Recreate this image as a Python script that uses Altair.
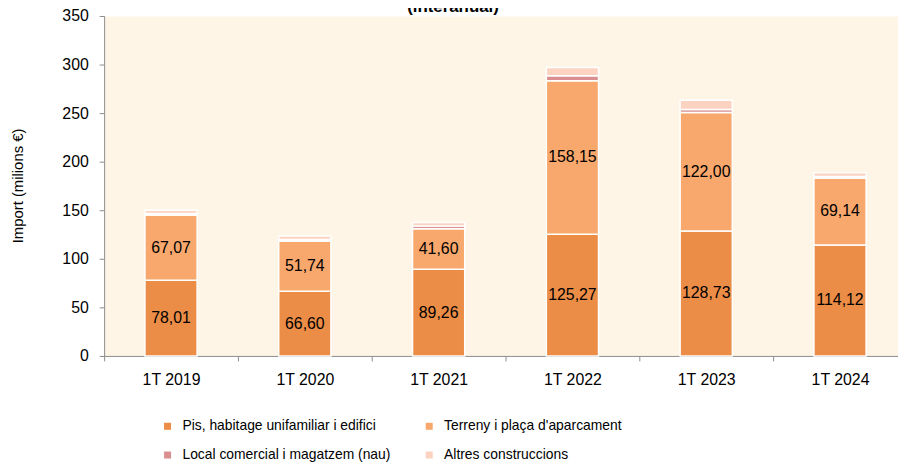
import altair as alt
import pandas as pd

title_text = "(interanual)"
categories = ["1T 2019", "1T 2020", "1T 2021", "1T 2022", "1T 2023", "1T 2024"]
series = [
    "Pis, habitage unifamiliar i edifici",
    "Terreny i plaça d'aparcament",
    "Local comercial i magatzem (nau)",
    "Altres construccions",
]
pis = [78.01, 66.60, 89.26, 125.27, 128.73, 114.12]
terreny = [67.07, 51.74, 41.60, 158.15, 122.00, 69.14]
local = [1.5, 1.5, 2.8, 5.0, 3.0, 1.5]
altres = [3.4, 3.6, 3.7, 8.5, 9.5, 3.7]
colors = ["#EC8D47", "#F8A86C", "#D98F8F", "#FCD3C1"]
labelled = [True, True, False, False]

rows = []
for i, c in enumerate(categories):
    base = 0.0
    for j, vals in enumerate([pis, terreny, local, altres]):
        v = vals[i]
        rows.append(dict(
            cat=c, serie=series[j], order=j, value=v,
            y0=base, y1=base + v, mid=base + v / 2,
            label=(f"{v:.2f}".replace(".", ",") if labelled[j] else ""),
        ))
        base += v
df = pd.DataFrame(rows)

FONT = "Liberation Sans"

x_enc = alt.X(
    "cat:N", sort=categories,
    scale=alt.Scale(paddingInner=0, paddingOuter=0),
    axis=alt.Axis(
        title=None, labelAngle=0, tickBand="extent", tickSize=5,
        tickColor="#8c8c8c", domainColor="#8c8c8c", labelPadding=11,
        labelFontSize=16, labelColor="#000000", labelFont=FONT,
    ),
)

bars = alt.Chart(df).mark_bar(
    width=alt.RelativeBandSize(0.39), stroke="white", strokeWidth=1.5
).encode(
    x=x_enc,
    y=alt.Y(
        "y0:Q",
        scale=alt.Scale(domain=[0, 350], nice=False),
        axis=alt.Axis(
            title="Import (milions €)", values=list(range(0, 351, 50)),
            grid=False, tickSize=5, tickColor="#8c8c8c", domainColor="#8c8c8c",
            labelPadding=11, labelFontSize=16, labelColor="#000000", labelFont=FONT,
            titleFont=FONT, titleFontSize=15, titleFontWeight="normal",
            titleColor="#000000", titleX=-87, titleY=171, titleAngle=-90,
            titleBaseline="middle",
        ),
    ),
    y2="y1:Q",
    color=alt.Color(
        "serie:N", sort=series,
        scale=alt.Scale(domain=series, range=colors),
        legend=alt.Legend(
            title=None, orient="none", legendX=57, legendY=407, columns=2,
            direction="horizontal", symbolType="square", symbolSize=50,
            symbolStrokeWidth=0, labelFont=FONT, labelFontSize=14,
            labelColor="#000000", labelOffset=8, columnPadding=31,
            rowPadding=15, labelLimit=400,
        ),
    ),
    order=alt.Order("order:Q"),
)

labels = alt.Chart(df).transform_filter(
    alt.datum.label != ""
).mark_text(font=FONT, fontSize=16, color="#000000").encode(
    x=alt.X("cat:N", sort=categories),
    y=alt.Y("mid:Q"),
    text="label:N",
)

title = alt.Chart(pd.DataFrame({"t": [title_text]})).mark_text(
    font=FONT, fontSize=17, fontWeight="bold", baseline="bottom", color="#000000"
).encode(text="t:N", x=alt.value(352), y=alt.value(0))

chart = alt.layer(bars, labels, title).properties(
    width=810, height=343, background="white",
    autosize=alt.AutoSizeParams(type="none"),
    padding={"left": 97, "top": 6, "right": -9, "bottom": 108},
).configure_view(fill="#FEF5E6", stroke="transparent")

chart.save("out.html", embed_options={"renderer": "svg", "actions": False})
